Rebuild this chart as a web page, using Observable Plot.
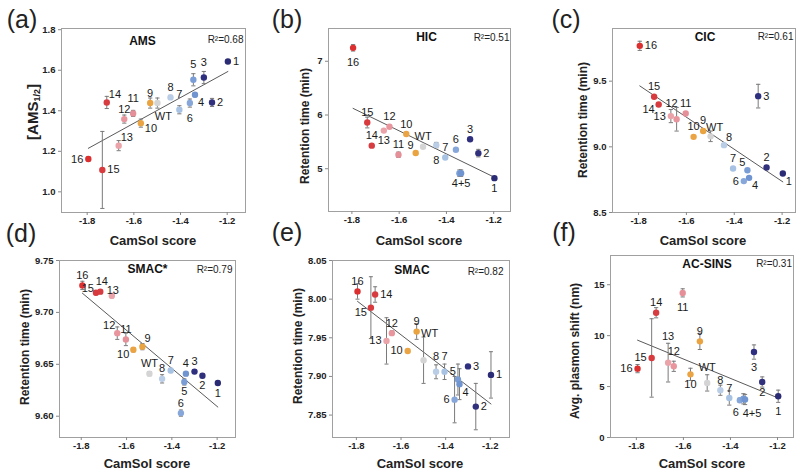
<!DOCTYPE html>
<html><head><meta charset="utf-8">
<script src="https://cdn.jsdelivr.net/npm/d3@7"></script>
<script src="https://cdn.jsdelivr.net/npm/@observablehq/plot@0.6"></script>
<style>
body{margin:0;background:#fff;}
#fig{position:relative;width:800px;height:472px;overflow:hidden;background:#fff;font-family:"Liberation Sans",Arial,sans-serif;color:#222;}
#fig svg{position:absolute;overflow:visible;background:transparent;}
.lbl{position:absolute;white-space:nowrap;transform:translate(-50%,-50%);font-weight:bold;font-size:13px;line-height:1;}
.ylab{position:absolute;white-space:nowrap;transform:translate(-50%,-50%) rotate(-90deg);font-weight:bold;font-size:12px;line-height:1;}
.ylab sub{font-size:9px;vertical-align:-2px;}
.letter{position:absolute;white-space:nowrap;transform:translate(-50%,-50%);font-size:25px;line-height:1;}
</style></head><body><div id="fig"></div>
<script>
// ---- data (order: 16 ... WT ... 1) ----
const mutants = ["16","15","14","13","12","11","10","9","WT","8","7","6","5","4","3","2","1"];
const camsol  = [-1.795,-1.735,-1.716,-1.665,-1.641,-1.603,-1.570,-1.530,-1.499,-1.443,-1.405,-1.360,-1.345,-1.338,-1.300,-1.265,-1.197];
const colors  = ["#dc2f2f","#d93a3e","#d63c40","#eba3aa","#e8959e","#e58f98","#eaa444","#e9a341","#d4d4d4","#b9cde6","#a8c2e3","#87a7da","#7a9dd5","#6f94cf","#2f2f80","#30307c","#2b2a74"];

const ams    = [1.162,1.108,1.441,1.228,1.359,1.387,1.339,1.438,1.438,1.466,1.405,1.438,1.553,1.479,1.564,1.441,1.643];
const amsErr = [0.01,0.19,0.03,0.025,0.02,0.015,0.02,0.025,0.025,0.01,0.02,0.02,0.03,0.01,0.03,0.02,0.01];
const hic    = [7.25,5.86,5.43,5.71,5.78,5.26,5.646,5.292,5.41,5.44,5.21,5.353,4.918,4.918,5.55,5.29,4.825];
const hicErr = [0.06,0.1,0.03,0.02,0.02,0.05,0.02,0.02,0.02,0.05,0.02,0.02,0.06,0.06,0.02,0.07,0.02];
const cic    = [9.769,9.381,9.322,9.234,9.21,9.254,9.076,9.121,9.08,9.013,8.835,8.739,8.822,8.764,9.386,8.843,8.797];
const cicErr = [0.035,0.01,0.01,0.05,0.09,0.01,0.01,0.01,0.04,0.01,0.01,0.01,0.01,0.01,0.09,0.01,0.01];
const smacStar    = [9.726,9.719,9.720,9.716,9.680,9.674,9.664,9.667,9.641,9.636,9.644,9.603,9.633,9.641,9.643,9.639,9.632];
const smacStarErr = [0.004,0.002,0.002,0.002,0.006,0.006,0.002,0.003,0.002,0.004,0.002,0.003,0.003,0.002,0.002,0.002,0.002];
const smac    = [8.010,7.989,8.006,7.946,7.956,null,7.933,7.958,7.921,7.906,7.906,7.870,7.896,7.890,7.913,7.861,7.902];
const smacErr = [0.01,0.04,0.01,0.03,0.003,null,0.002,0.01,0.03,0.009,0.01,0.03,0.02,0.02,0.002,0.03,0.03];
const acsins    = [6.76,7.81,12.25,7.35,6.99,14.2,6.2,9.44,5.36,4.64,3.88,3.66,3.8,3.73,8.39,5.45,4.05];
const acsinsErr = [0.4,3.85,0.5,1.9,0.5,0.4,0.6,0.8,0.8,0.5,0.7,0.2,0.5,0.5,0.7,0.5,0.6];

const xTicks = [-1.8,-1.6,-1.4,-1.2];

// ---- label placement codes ----
const OFF = {
  t:[0,-10,"middle"], T:[0,-15,"middle"], TT:[0,-26,"middle"], TTr:[6,-27,"middle"],
  b:[0,10,"middle"], B:[0,15,"middle"],
  l:[-5,0,"end"], r:[5,0,"start"],
  tl:[-2,-8,"end"], tr:[2,-8,"start"], bl:[-4,5,"end"], br:[3,8,"start"],
  rb:[4,5,"start"], Br:[6,13,"middle"], Tl:[-5,-16,"middle"], bL:[-4,12,"middle"],
  BR:[7,14,"middle"], tL:[-2,-4,"end"], tR:[1.5,-10,"middle"], tW:[4,-9,"middle"], ts:[1,-5,"middle"]
};
const posA = ["l","r","tr","tr","t","T","rb","t","Br","t","T","B","T","br","T","r","r"];
const posB = ["B","t","t","b","t","t","t","tl","t","B","t","t","","b","t","r","b"];
const posC = ["r","t","bl","l","Tl","t","t","t","tW","tr","t","l","tl","br","r","t","br"];
const posD = ["t","tL","tR","ts","tl","t","bl","tr","t","t","t","t","b","t","t","b","b"];
const posE = ["t","bl","r","l","t","","l","t","TTr","T","T","l","tl","br","r","r","r"];
const posF = ["l","l","t","TT","T","B","b","t","T","t","t","bL","","BR","B","b","B"];

const panels = [
  {letter:"(a)", letterAt:[22,19], frame:[61,28,245,212], xDom:[-1.910,-1.1216], yDom:[0.898,1.806],
   y:ams, err:amsErr, pos:posA, yTicks:[1.0,1.2,1.4,1.6,1.8], fmt:d=>d.toFixed(1),
   title:"AMS", tdx:-11, tdy:13, r2:"R²=0.68", rdx:-2, rdy:11,
   ylab:"[AMS<sub>1/2</sub>]", ylabAt:[33,112], ylabSize:15, xlabAt:[153,240]},
  {letter:"(b)", letterAt:[287,19], frame:[328,28,510,211], xDom:[-1.899,-1.129], yDom:[4.204,7.61],
   y:hic, err:hicErr, pos:posB, yTicks:[5,6,7], fmt:d=>d.toFixed(0), merge45:true,
   title:"HIC", tdx:7, tdy:9, r2:"R²=0.51", rdx:-1, rdy:9,
   ylab:"Retention time (min)", ylabAt:[305,126], xlabAt:[419,240]},
  {letter:"(c)", letterAt:[566,19], frame:[612,28,795,212], xDom:[-1.909,-1.144], yDom:[8.5,9.901],
   y:cic, err:cicErr, pos:posC, yTicks:[8.5,9.0,9.5], fmt:d=>d.toFixed(1),
   title:"CIC", tdx:1, tdy:9, r2:"R²=0.61", rdx:-2, rdy:8.5,
   ylab:"Retention time (min)", ylabAt:[583,120], xlabAt:[703,240]},
  {letter:"(d)", letterAt:[21,233], frame:[59,260,235,437], xDom:[-1.896,-1.119], yDom:[9.5795,9.75],
   y:smacStar, err:smacStarErr, pos:posD, yTicks:[9.60,9.65,9.70,9.75], fmt:d=>d.toFixed(2),
   title:"SMAC*", tdx:0, tdy:9, r2:"R²=0.79", rdx:-3, rdy:9,
   ylab:"Retention time (min)", ylabAt:[25,347], xlabAt:[147,463]},
  {letter:"(e)", letterAt:[287,232], frame:[332,260,509,437], xDom:[-1.907,-1.114], yDom:[7.821,8.05],
   y:smac, err:smacErr, pos:posE, yTicks:[7.85,7.90,7.95,8.00,8.05], fmt:d=>d.toFixed(2),
   title:"SMAC", tdx:-9, tdy:10, r2:"R²=0.82", rdx:-6, rdy:11.5,
   ylab:"Retention time (min)", ylabAt:[298,346], xlabAt:[420,463]},
  {letter:"(f)", letterAt:[564,232], frame:[610,255,793,437], xDom:[-1.910,-1.132], yDom:[0,17.87],
   y:acsins, err:acsinsErr, pos:posF, yTicks:[0,5,10,15], fmt:d=>d.toFixed(0), merge45:true,
   title:"AC-SINS", tdx:5, tdy:9, r2:"R²=0.31", rdx:-1.5, rdy:8,
   ylab:"Avg. plasmon shift (nm)", ylabAt:[575,351], xlabAt:[702,463]}
];

const fig = document.getElementById("fig");
const ML = 45, MT = 22, MR = 14, MB = 24;

function addDiv(cls, html, x, y, size) {
  const d = document.createElement("div");
  d.className = cls; d.innerHTML = html;
  d.style.left = x + "px"; d.style.top = y + "px";
  if (size) d.style.fontSize = size + "px";
  fig.appendChild(d);
}

for (const p of panels) {
  const data = mutants.map((m, i) => ({
    name: m, x: camsol[i], y: p.y[i], e: p.err[i], color: colors[i], pos: p.pos[i],
    label: (p.merge45 && m === "4") ? "4+5" : m
  })).filter(d => d.y != null);

  const [fx0, fy0, fx1, fy1] = p.frame;
  const W = (fx1 - fx0) + ML + MR, H = (fy1 - fy0) + MT + MB;
  const cw = 0.009;

  const labelMarks = Object.keys(OFF).map(code => {
    const [dx, dy, anchor] = OFF[code];
    return Plot.text(data.filter(d => d.pos === code), {
      x: "x", y: "y", text: "label", dx, dy, textAnchor: anchor,
      fontSize: 11, fill: "#1a1a1a", lineAnchor: "middle"
    });
  });

  const chart = Plot.plot({
    width: W, height: H,
    marginLeft: ML, marginTop: MT, marginRight: MR, marginBottom: MB,
    style: {background: "transparent", overflow: "visible", fontFamily: "'Liberation Sans', Arial, sans-serif", color: "#222"},
    x: {domain: p.xDom},
    y: {domain: p.yDom},
    color: {type: "identity"},
    marks: [
      Plot.frame({stroke: "#a0a0a0", strokeWidth: 1}),
      Plot.axisX({ticks: xTicks, tickSize: 3, tickPadding: 2, tickFormat: d => d.toFixed(1),
                  fontWeight: "bold", fontSize: 9.5, stroke: "#888", label: null}),
      Plot.axisY({ticks: p.yTicks, tickSize: 3, tickPadding: 3, tickFormat: p.fmt,
                  fontWeight: "bold", fontSize: 9.5, stroke: "#888", label: null}),
      Plot.linearRegressionY(data, {x: "x", y: "y", ci: 0, stroke: "#5a5a5a", strokeWidth: 1}),
      Plot.ruleX(data, {x: "x", y1: d => d.y - d.e, y2: d => d.y + d.e, stroke: "#7a7a7a", strokeWidth: 1}),
      Plot.link(data, {x1: d => d.x - cw, x2: d => d.x + cw, y1: d => d.y + d.e, y2: d => d.y + d.e, stroke: "#7a7a7a"}),
      Plot.link(data, {x1: d => d.x - cw, x2: d => d.x + cw, y1: d => d.y - d.e, y2: d => d.y - d.e, stroke: "#7a7a7a"}),
      Plot.dot(data, {x: "x", y: "y", fill: "color", r: 3.2}),
      ...labelMarks,
      Plot.text([p.title], {frameAnchor: "top", dx: p.tdx, dy: p.tdy, fontWeight: "bold", fontSize: 12, fill: "#111", lineAnchor: "middle"}),
      Plot.text([p.r2], {frameAnchor: "top-right", dx: p.rdx, dy: p.rdy, textAnchor: "end", fontSize: 10, fill: "#222", lineAnchor: "middle"})
    ]
  });
  chart.style.left = (fx0 - ML) + "px";
  chart.style.top = (fy0 - MT) + "px";
  fig.appendChild(chart);

  addDiv("letter", p.letter, p.letterAt[0], p.letterAt[1]);
  addDiv("lbl", "CamSol score", p.xlabAt[0], p.xlabAt[1]);
  addDiv("ylab", p.ylab, p.ylabAt[0], p.ylabAt[1], p.ylabSize);
}
</script>
</body></html>
